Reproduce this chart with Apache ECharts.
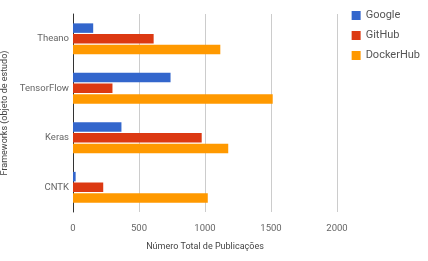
<!DOCTYPE html>
<html>
<head>
<meta charset="utf-8">
<script src="https://cdn.jsdelivr.net/npm/echarts@6/dist/echarts.min.js"></script>
<style>
html, body { margin: 0; padding: 0; background: #fff; }
#chart { width: 428px; height: 261px; }
</style>
</head>
<body>
<div id="chart"></div>
<script>
// dados
var frameworks = ['Theano', 'TensorFlow', 'Keras', 'CNTK'];
var google = [153, 739, 367, 20];
var github = [611, 299, 975, 229];
var dockerhub = [1116, 1513, 1176, 1021];
var xTicks = [0, 500, 1000, 1500, 2000];

var myChart = echarts.init(document.getElementById('chart'));
var font = 'Roboto, "Noto Sans", sans-serif';

function serie(name, data, color) {
	return {
		name: name,
		type: 'bar',
		data: data,
		barWidth: 9.5,
		barGap: '12%',
		itemStyle: { color: color },
		animation: false
	};
}

var option = {
	textStyle: { fontFamily: font },
	legend: {
		orient: 'vertical',
		right: 3,
		top: 5,
		itemWidth: 9,
		itemHeight: 9,
		itemGap: 9,
		icon: 'rect',
		textStyle: { fontSize: 11, color: '#555', fontFamily: font },
		data: ['Google', 'GitHub', 'DockerHub']
	},
	grid: { left: 73, right: 91, top: 14, bottom: 49, containLabel: false, outerBoundsMode: 'none' },
	xAxis: {
		type: 'value',
		min: xTicks[0],
		max: xTicks[xTicks.length - 1],
		interval: 500,
		name: 'Número Total de Publicações',
		nameLocation: 'middle',
		nameGap: 30,
		nameTextStyle: { fontSize: 9, color: '#444' },
		axisLine: { show: false },
		axisTick: { show: false },
		axisLabel: { fontSize: 9.5, color: '#666', margin: 12, formatter: function (v) { return String(v); } },
		splitLine: { lineStyle: { color: '#ccc' } }
	},
	yAxis: {
		type: 'category',
		inverse: true,
		data: frameworks,
		name: 'Frameworks (objeto de estudo)',
		nameLocation: 'middle',
		nameGap: 63,
		nameTextStyle: { fontSize: 9, color: '#444' },
		axisLine: { lineStyle: { color: '#333' } },
		axisTick: { show: false },
		axisLabel: { fontSize: 9.5, color: '#666', margin: 4 }
	},
	series: [
		serie('Google', google, '#3366cc'),
		serie('GitHub', github, '#dc3912'),
		serie('DockerHub', dockerhub, '#ff9900')
	]
};
myChart.setOption(option);
</script>
</body>
</html>
